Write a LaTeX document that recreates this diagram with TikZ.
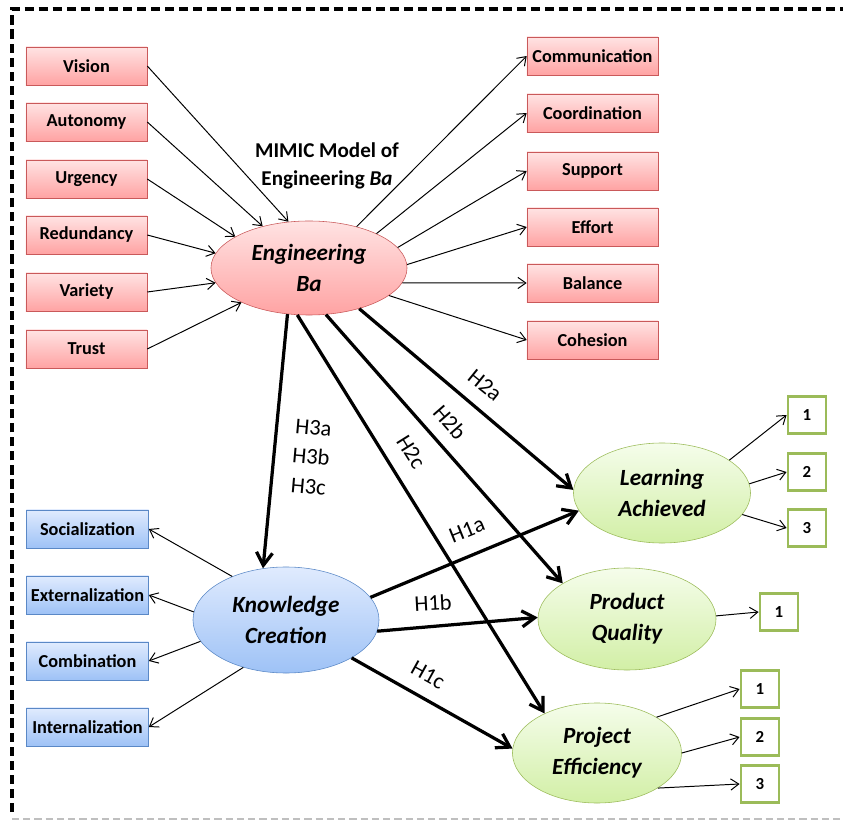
\documentclass[tikz,border=0pt]{standalone}
\usepackage{fontspec}
\setmainfont{Carlito}
\usetikzlibrary{arrows.meta,shapes.geometric}
\definecolor{redtop}{HTML}{FFE3E3}
\definecolor{redbot}{HTML}{FFA3A3}
\definecolor{redline}{HTML}{C9595A}
\definecolor{bluetop}{HTML}{E0EBFE}
\definecolor{bluebot}{HTML}{9EC2F6}
\definecolor{blueline}{HTML}{5A88C6}
\definecolor{greentop}{HTML}{F5FDEB}
\definecolor{greenbot}{HTML}{D2EFA6}
\definecolor{greenline}{HTML}{9BBB59}
\tikzset{
  drvbox/.style={
    draw=redline,
    top color=redtop,
    bottom color=redbot,
    minimum width=3.025cm,
    minimum height=0.95cm,
    inner sep=1pt,
    font=\fontsize{13}{15}\selectfont\bfseries
  },
  indbox/.style={drvbox, minimum width=3.275cm},
  kcbox/.style={
    draw=blueline,
    top color=bluetop,
    bottom color=bluebot,
    minimum width=3.05cm,
    minimum height=0.95cm,
    inner sep=1pt,
    font=\fontsize{13}{15}\selectfont\bfseries
  },
  itembox/.style={
    draw=greenline,
    fill=white,
    line width=2pt,
    minimum width=0.95cm,
    minimum height=0.93cm,
    inner sep=0pt,
    font=\fontsize{12}{14}\selectfont\bfseries
  },
  latent/.style={
    ellipse,
    inner sep=0pt,
    align=center,
    font=\fontsize{16.5}{22}\selectfont\bfseries\itshape
  },
  engell/.style={latent, draw=redline, top color=redtop, bottom color=redbot},
  kcell/.style={latent, draw=blueline, top color=bluetop, bottom color=bluebot},
  outell/.style={latent, draw=greenline, top color=greentop, bottom color=greenbot},
  thinar/.style={-{Straight Barb[length=2mm,width=2.8mm]},line width=0.7pt},
  hypar/.style={-{Straight Barb[length=3.2mm,width=4mm]},line width=2.3pt},
  hyplabel/.style={font=\fontsize{16}{21}\selectfont, align=center, inner sep=0pt},
  frameline/.style={line width=2.2pt, dash pattern=on 6.5pt off 3.5pt},
  frameline2/.style={line width=1pt, draw=black!25, dash pattern=on 5pt off 3pt}
}
\begin{document}
\begin{tikzpicture}[x=0.025cm,y=-0.025cm]
  \useasboundingbox (0,0) rectangle (843,820);
  % frame
  \draw[frameline] (12,812) -- (12,9) -- (843,9);
  \draw[frameline2] (12,819) -- (843,819);

  % latent variables
  \node[engell, minimum width=4.9cm, minimum height=2.35cm] (eng) at (309,268) {Engineering\\Ba};
  \node[kcell, minimum width=4.65cm, minimum height=2.65cm] (kc) at (286,620) {Knowledge\\Creation};
  \node[outell, minimum width=4.425cm, minimum height=2.5cm] (la) at (662,493) {Learning\\Achieved};
  \node[outell, minimum width=4.45cm, minimum height=2.55cm] (pq) at (627,619) {Product\\Quality};
  \node[outell, minimum width=4.225cm, minimum height=2.5cm] (pe) at (597,753) {Project\\Efficiency};

  \node[align=center, font=\fontsize{15}{20}\selectfont\bfseries] (mimic) at (327,166) {MIMIC Model of\\Engineering \textit{Ba}};

  % causes of Engineering Ba
  \foreach \nm/\txt/\yy/\ang in {vis/Vision/66/114, aut/Autonomy/122/138, urg/Urgency/179/157,
      red/Redundancy/235/171, var/Variety/292/189, tru/Trust/349/207}{
    \node[drvbox] (\nm) at (86.5,\yy) {\txt};
    \draw[thinar] (\nm.east) -- (eng.\ang);
  }

  % indicators of Engineering Ba
  \foreach \nm/\txt/\yy/\ang in {com/Communication/56/41, coo/Coordination/113/27, sup/Support/171/13,
      eff/Effort/227/2, bal/Balance/283/351, coh/Cohesion/340/341}{
    \node[indbox] (\nm) at (592.5,\yy) {\txt};
    \draw[thinar] (eng.\ang) -- (\nm.west);
  }

  % SECI indicators
  \foreach \nm/\txt/\yy/\ang in {soc/Socialization/529/141, ext/Externalization/595/175,
      cmb/Combination/661/194, int/Internalization/727/228}{
    \node[kcbox] (\nm) at (87.5,\yy) {\txt};
    \draw[thinar] (kc.\ang) -- (\nm.east);
  }

  % outcome items
  \foreach \i/\yy/\ang in {1/415/26, 2/472/6, 3/528/345}{
    \node[itembox] (la\i) at (807,\yy) {\i};
    \draw[thinar] (la.\ang) -- (la\i.west);
  }
  \node[itembox] (pq1) at (779,612) {1};
  \draw[thinar] (pq.2) -- (pq1.west);
  \foreach \i/\yy/\ang in {1/689/31, 2/737/0, 3/784/330}{
    \node[itembox] (pe\i) at (760,\yy) {\i};
    \draw[thinar] (pe.\ang) -- (pe\i.west);
  }

  % hypotheses
  \draw[hypar] (eng.245) -- (kc.114);
  \draw[hypar] (eng.256) -- (pe.143);
  \draw[hypar] (eng.290) -- (pq.151);
  \draw[hypar] (eng.321) -- (la.178);
  \draw[hypar] (kc.15) -- (la.192);
  \draw[hypar] (kc.353) -- (pq.179);
  \draw[hypar] (kc.330) -- (pe.177);

  \node[hyplabel, rotate=-5] (h3) at (311,457) {H3a\\H3b\\H3c};
  \node[hyplabel, rotate=-58] (h2c) at (411,452) {H2c};
  \node[hyplabel, rotate=-49] (h2b) at (450,422) {H2b};
  \node[hyplabel, rotate=-39] (h2a) at (485,385) {H2a};
  \node[hyplabel, rotate=22] (h1a) at (467,530) {H1a};
  \node[hyplabel, rotate=3] (h1b) at (433,603) {H1b};
  \node[hyplabel, rotate=-29] (h1c) at (428,675) {H1c};
\end{tikzpicture}
\end{document}
